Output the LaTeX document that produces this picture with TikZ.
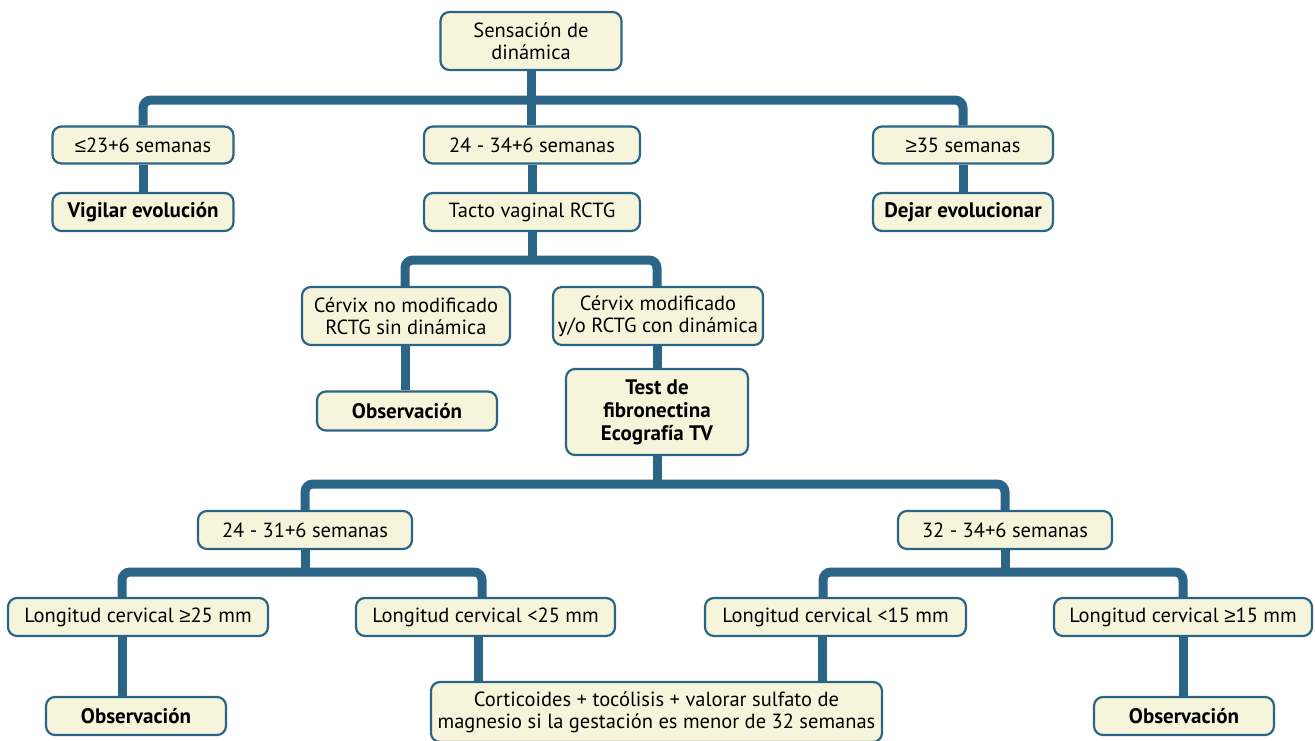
\documentclass[tikz,border=0pt]{standalone}
\usepackage{fontspec}
\setmainfont{PT Sans}
\newfontfamily\symf{Liberation Sans}
\usetikzlibrary{backgrounds}
\definecolor{lineblue}{RGB}{42,101,135}
\definecolor{boxfill}{RGB}{246,245,220}
\tikzset{
  box/.style={draw=lineblue, line width=2.2pt, fill=boxfill, rounded corners=9pt,
    inner sep=0pt, align=center, font=\fontsize{20.5}{22}\selectfont},
  bbox/.style={box, font=\fontsize{21}{23}\selectfont\bfseries},
  conn/.style={draw=lineblue, line width=9pt, rounded corners=8pt}
}
\newcommand{\myle}{{\symf ≤}}
\newcommand{\myge}{{\symf ≥}}
\begin{document}
\begin{tikzpicture}[x=1pt,y=-1pt]
\useasboundingbox (0,0) rectangle (1315,740);
% level 0
\node[box, minimum width=181pt, minimum height=58pt] (top) at (531,41) {Sensación de\\dinámica};
% level 1
\node[box, minimum width=181pt, minimum height=37pt] (a1) at (143,145) {\myle23+6 semanas};
\node[box, minimum width=216pt, minimum height=37pt] (a2) at (532,145) {24 - 34+6 semanas};
\node[box, minimum width=180pt, minimum height=37pt] (a3) at (963,145) {\myge35 semanas};
\node[bbox, minimum width=181pt, minimum height=38pt] (b1) at (143,212) {Vigilar evolución};
\node[box, minimum width=216pt, minimum height=38pt] (b2) at (532,212) {Tacto vaginal RCTG};
\node[bbox, minimum width=180pt, minimum height=38pt] (b3) at (963,212) {Dejar evolucionar};
% level 2
\node[box, minimum width=208pt, minimum height=58pt] (c1) at (406,316) {Cérvix no modificado\\RCTG sin dinámica};
\node[box, minimum width=210pt, minimum height=58pt] (c2) at (658,316) {Cérvix modificado\\y/o RCTG con dinámica};
\node[bbox, minimum width=180pt, minimum height=39pt] (d1) at (407,411) {Observación};
\node[bbox, minimum width=182pt, minimum height=86pt] (d2) at (657,412) {Test de\\fibronectina\\Ecografía TV};
% level 3
\node[box, minimum width=214pt, minimum height=38pt] (e1) at (305,530) {24 - 31+6 semanas};
\node[box, minimum width=214pt, minimum height=38pt] (e2) at (1005,530) {32 - 34+6 semanas};
% level 4
\node[box, minimum width=260pt, minimum height=38pt] (f1) at (138,617) {Longitud cervical \myge25 mm};
\node[box, minimum width=259pt, minimum height=38pt] (f2) at (485.5,617) {Longitud cervical <25 mm};
\node[box, minimum width=261pt, minimum height=38pt] (f3) at (835.5,617) {Longitud cervical <15 mm};
\node[box, minimum width=258pt, minimum height=38pt] (f4) at (1183,617) {Longitud cervical \myge15 mm};
% level 5
\node[bbox, minimum width=180pt, minimum height=38pt] (g1) at (136,716) {Observación};
\node[box, minimum width=451pt, minimum height=60pt] (g2) at (656.5,712) {Corticoides + tocólisis + valorar sulfato de\\magnesio si la gestación es menor de 32 semanas};
\node[bbox, minimum width=180pt, minimum height=38pt] (g3) at (1184,716) {Observación};
% junction coordinates
\coordinate (j0) at (531,100);
\coordinate (jl) at (143,100);
\coordinate (jr) at (963,100);
\coordinate (k0) at (532,260);
\coordinate (kl) at (405,260);
\coordinate (kr) at (657,260);
\coordinate (m0) at (657,484);
\coordinate (ml) at (305,484);
\coordinate (mr) at (1005,484);
\coordinate (pl) at (122,572);
\coordinate (pr) at (482,572);
\coordinate (ql) at (823,572);
\coordinate (qr) at (1183,572);
\begin{pgfonlayer}{background}
\draw[conn] (top.south -| j0) -- (j0);
\draw[conn] (a1.north -| jl) -- (jl) -- (jr) -- (a3.north -| jr);
\draw[conn] (j0) -- (a2.north -| j0);
\draw[conn] (a1.south) -- (b1.north);
\draw[conn] (a2.south) -- (b2.north);
\draw[conn] (a3.south) -- (b3.north);
\draw[conn] (b2.south -| k0) -- (k0);
\draw[conn] (c1.north -| kl) -- (kl) -- (kr) -- (c2.north -| kr);
\draw[conn] (c1.south -| kl) -- (d1.north -| kl);
\draw[conn] (c2.south -| kr) -- (d2.north -| kr);
\draw[conn] (d2.south -| m0) -- (m0);
\draw[conn] (e1.north -| ml) -- (ml) -- (mr) -- (e2.north -| mr);
\draw[conn] (e1.south) -- (e1.south |- pl);
\draw[conn] (f1.north -| pl) -- (pl) -- (pr) -- (f2.north -| pr);
\draw[conn] (e2.south) -- (e2.south |- ql);
\draw[conn] (f3.north -| ql) -- (ql) -- (qr) -- (f4.north -| qr);
\draw[conn] (f1.south -| pl) -- (g1.north -| pl);
\draw[conn] (f2.south -| 478,0) -- (g2.north -| 478,0);
\draw[conn] (f3.south -| 822,0) -- (g2.north -| 822,0);
\draw[conn] (f4.south -| qr) -- (g3.north -| qr);
\end{pgfonlayer}
\end{tikzpicture}
\end{document}
